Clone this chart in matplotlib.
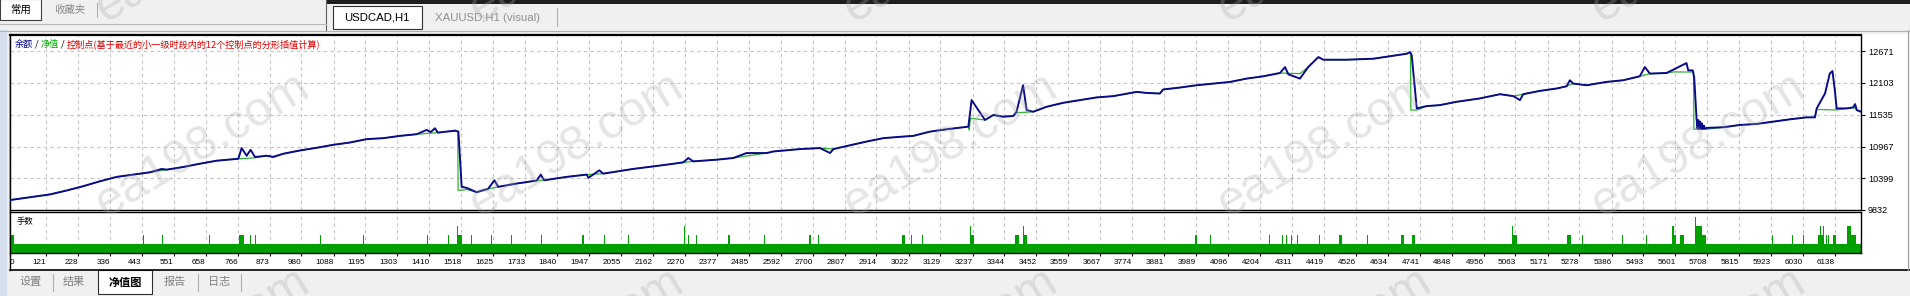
import matplotlib.pyplot as plt
from matplotlib.patches import Rectangle

W, H = 1910, 296

# balance curve: trade number -> account balance
bal_trade = [0, 78, 134, 191, 246, 303, 359, 415, 471, 510, 527, 583, 639, 695,
             768, 779, 796, 809, 824, 863, 885, 919, 975, 1031, 1087, 1143, 1199,
             1255, 1312, 1368, 1401, 1415, 1429, 1439, 1469, 1497, 1508, 1519, 1536,
             1569, 1608, 1629, 1642, 1704, 1771, 1785, 1796, 1872, 1940, 1945, 1982,
             1995, 2096, 2208, 2264, 2281, 2298, 2376, 2432, 2477, 2545, 2567, 2657,
             2724, 2758, 2769, 2881, 2937, 2993, 3038, 3094, 3150, 3223, 3234, 3279,
             3307, 3340, 3374, 3385, 3407, 3419, 3441, 3486, 3542, 3598, 3654, 3710,
             3789, 3822, 3867, 3878, 3935, 3991, 4047, 4103, 4159, 4215, 4271, 4288,
             4299, 4338, 4366, 4383, 4400, 4417, 4495, 4585, 4697, 4708, 4714, 4731,
             4764, 4809, 4865, 4943, 5011, 5056, 5078, 5089, 5145, 5201, 5235, 5246,
             5257, 5302, 5369, 5425, 5481, 5498, 5515, 5571, 5594, 5638, 5644, 5659,
             5664, 5672, 5675, 5678, 5681, 5684, 5687, 5690, 5693, 5697, 5700, 5706,
             5762, 5818, 5874, 5930, 5986, 6042, 6070, 6076, 6104, 6120, 6129, 6137,
             6143, 6177, 6199, 6205, 6211, 6225]
bal_value = [10010, 10069, 10110, 10181, 10257, 10346, 10424, 10465, 10506, 10566,
             10553, 10601, 10660, 10713, 10748, 10939, 10802, 10908, 10779, 10802,
             10779, 10837, 10896, 10944, 10997, 11038, 11098, 11116, 11157, 11187,
             11263, 11225, 11293, 11215, 11233, 11251, 11233, 10246, 10228, 10150,
             10210, 10363, 10246, 10305, 10358, 10465, 10363, 10424, 10465, 10406,
             10541, 10482, 10566, 10642, 10683, 10761, 10701, 10731, 10761, 10850,
             10850, 10878, 10921, 10939, 10850, 10921, 11056, 11116, 11140, 11157,
             11233, 11275, 11322, 11796, 11441, 11530, 11500, 11512, 11588, 12062,
             11618, 11588, 11677, 11748, 11796, 11844, 11867, 11943, 11925, 11914,
             11986, 12021, 12062, 12092, 12121, 12181, 12222, 12281, 12387, 12257,
             12181, 12387, 12476, 12565, 12518, 12518, 12536, 12625, 12653, 12600,
             11648, 11689, 11707, 11766, 11826, 11902, 11867, 11796, 11902, 11961,
             12003, 12044, 12151, 12092, 12062, 12121, 12151, 12222, 12387, 12270,
             12281, 12341, 12458, 12328, 12328, 12200, 11460, 11290, 11440, 11285,
             11410, 11282, 11380, 11280, 11340, 11285, 11300, 11311, 11352, 11370,
             11411, 11453, 11488, 11488, 11648, 11915, 12270, 12316, 11974, 11648,
             11648, 11666, 11725, 11618, 11588]

# equity curve: follows the balance but stays flat under the balance spikes
eq_trade = [0, 78, 134, 191, 246, 303, 359, 415, 471, 527, 583, 639, 695, 768, 824,
            863, 885, 919, 975, 1031, 1087, 1143, 1199, 1255, 1312, 1368, 1439, 1469,
            1497, 1506, 1507, 1519, 1536, 1569, 1608, 1642, 1704, 1771, 1796, 1872,
            1940, 1995, 2096, 2208, 2264, 2298, 2376, 2432, 2545, 2567, 2657, 2724,
            2769, 2881, 2937, 2993, 3038, 3094, 3150, 3223, 3226, 3230, 3279, 3307,
            3340, 3374, 3385, 3419, 3441, 3486, 3542, 3598, 3654, 3710, 3789, 3822,
            3867, 3878, 3935, 3991, 4047, 4103, 4159, 4215, 4271, 4338, 4366, 4383,
            4400, 4417, 4495, 4585, 4697, 4710, 4711, 4731, 4764, 4809, 4865, 4943,
            5011, 5056, 5089, 5145, 5201, 5235, 5257, 5302, 5369, 5425, 5481, 5515,
            5571, 5594, 5662, 5663, 5706, 5762, 5818, 5874, 5930, 5986, 6042, 6070,
            6076, 6143, 6177, 6199, 6211, 6225]
eq_value = [10010, 10069, 10110, 10181, 10257, 10346, 10424, 10465, 10506, 10553,
            10601, 10660, 10713, 10748, 10765, 10802, 10790, 10837, 10896, 10944,
            10997, 11038, 11098, 11116, 11157, 11187, 11215, 11233, 11240, 11233,
            10186, 10186, 10200, 10150, 10210, 10246, 10305, 10358, 10363, 10424,
            10465, 10482, 10566, 10642, 10683, 10701, 10731, 10761, 10850, 10878,
            10921, 10939, 10921, 11056, 11116, 11140, 11157, 11233, 11275, 11322,
            11263, 11471, 11441, 11530, 11500, 11512, 11571, 11580, 11588, 11677,
            11748, 11796, 11844, 11867, 11943, 11925, 11914, 11986, 12021, 12062,
            12092, 12121, 12181, 12222, 12281, 12270, 12387, 12476, 12565, 12518,
            12518, 12536, 12625, 12653, 11618, 11618, 11689, 11707, 11766, 11826,
            11902, 11867, 11902, 11961, 12003, 12044, 12092, 12062, 12121, 12151,
            12222, 12270, 12281, 12300, 12298, 11276, 11276, 11311, 11352, 11370,
            11411, 11453, 11488, 11488, 11630, 11620, 11648, 11666, 11618, 11588]

# lot sizes: base lot on every trade plus the larger orders (trade from, trade to, lots)
base_lot = 0.01
last_trade = 6225
lot_from = [0, 448, 512, 670, 771, 808, 824, 1044, 1188, 1403, 1474, 1504, 1504,
            1552, 1618, 1686, 1785, 1922, 1999, 2080, 2267, 2281, 2308, 2414, 2537,
            2688, 2719, 3001, 3031, 3066, 3228, 3228, 3281, 3381, 3406, 3406, 3913,
            3985, 4034, 4071, 4233, 4278, 4291, 4308, 4328, 4402, 4468, 4565, 4677,
            4714, 5016, 5050, 5050, 5218, 5237, 5287, 5420, 5501, 5588, 5591, 5588,
            5616, 5668, 5671, 5690, 5927, 5994, 6031, 6082, 6088, 6098, 6106, 6114,
            6132, 6179, 6190]
lot_to = [15, 451, 515, 673, 787, 811, 827, 1047, 1191, 1406, 1477, 1520, 1507,
          1555, 1621, 1689, 1788, 1932, 2002, 2083, 2270, 2284, 2311, 2422, 2540,
          2694, 2722, 3010, 3034, 3069, 3242, 3232, 3284, 3392, 3420, 3409, 3916,
          3991, 4039, 4074, 4236, 4281, 4294, 4311, 4331, 4405, 4478, 4568, 4688,
          4725, 5019, 5067, 5054, 5221, 5249, 5290, 5423, 5504, 5591, 5595, 5603,
          5630, 5671, 5690, 5705, 5930, 5997, 6034, 6100, 6091, 6101, 6109, 6117,
          6140, 6190, 6208]
lot_size = [0.02, 0.02, 0.02, 0.02, 0.02, 0.02, 0.02, 0.02, 0.02, 0.02, 0.02, 0.02,
            0.03, 0.02, 0.02, 0.02, 0.02, 0.02, 0.02, 0.02, 0.03, 0.02, 0.02, 0.02,
            0.02, 0.02, 0.02, 0.02, 0.02, 0.02, 0.02, 0.03, 0.02, 0.02, 0.02, 0.03,
            0.02, 0.02, 0.02, 0.02, 0.02, 0.02, 0.02, 0.02, 0.02, 0.02, 0.02, 0.02,
            0.02, 0.02, 0.02, 0.02, 0.03, 0.02, 0.02, 0.02, 0.02, 0.02, 0.04, 0.03,
            0.02, 0.02, 0.04, 0.03, 0.02, 0.02, 0.02, 0.02, 0.02, 0.03, 0.03, 0.02,
            0.02, 0.02, 0.03, 0.02]

y_ticks = [9832, 10399, 10967, 11535, 12103, 12671]
x_labels = ['0', '121', '228', '336', '443', '551', '658', '766', '873', '980',
            '1088', '1195', '1303', '1410', '1518', '1625', '1733', '1840', '1947',
            '2055', '2162', '2270', '2377', '2485', '2592', '2700', '2807', '2914',
            '3022', '3129', '3237', '3344', '3452', '3559', '3667', '3774', '3881',
            '3989', '4096', '4204', '4311', '4419', '4526', '4634', '4741', '4848',
            '4956', '5063', '5171', '5278', '5386', '5493', '5601', '5708', '5815',
            '5923', '6030', '6138']
x_ticks = [int(s) for s in x_labels]

CJK = ['Noto Sans CJK SC', 'DejaVu Sans']
NUM = 'Liberation Sans'

fig = plt.figure(figsize=(W / 100, H / 100), dpi=100)
fig.patch.set_facecolor('#f0f0f0')


def px_axes(x0, y0, x1, y1, **kw):
    return fig.add_axes([x0 / W, 1 - y1 / H, (x1 - x0) / W, (y1 - y0) / H], **kw)


# window chrome drawn in pixel coordinates
bg = px_axes(0, 0, W, H, zorder=0)
bg.set_xlim(0, W)
bg.set_ylim(H, 0)
bg.axis('off')
bg.add_patch(Rectangle((10, 34), 1898, 236, fc='white', ec='none'))
bg.add_patch(Rectangle((0, 30), 7, 266, fc='#d5dfeb', ec='none'))
bg.plot([10, 10], [34, 270], color='black', lw=1)
bg.plot([10, 1910], [269.5, 269.5], color='black', lw=1.2)
bg.plot([1908, 1908], [30, 270], color='#a0a0a0', lw=0.8)
bg.plot([0, 1910], [30.5, 30.5], color='#b0b0b0', lw=0.8)

# top tab strip
bg.add_patch(Rectangle((326, 0), 1584, 4, fc='#1e1e1e', ec='none'))
bg.plot([326, 326], [0, 30], color='#606060', lw=0.8)
bg.plot([0, 326], [24, 24], color='#b8b8b8', lw=0.8)
bg.add_patch(Rectangle((0, -1), 41, 21, fc='white', ec='#404040', lw=0.8))
bg.text(20.5, 10, '常用', ha='center', va='center', fontsize=7.5, family=CJK)
bg.text(70, 10, '收藏夹', ha='center', va='center', fontsize=7.5, family=CJK, color='#8a8a8a')
bg.plot([97, 97], [3, 17], color='#b0b0b0', lw=0.8)
bg.add_patch(Rectangle((333, 6), 89, 23, fc='white', ec='#303030', lw=0.8))
bg.text(377, 18, 'USDCAD,H1', ha='center', va='center', fontsize=8.2, family=NUM)
bg.text(435, 18, 'XAUUSD,H1 (visual)', ha='left', va='center', fontsize=8.2,
        family=NUM, color='#909090')
bg.plot([557, 557], [8, 26], color='#b0b0b0', lw=0.8)

# bottom tabs
bg.add_patch(Rectangle((98, 270), 54, 24, fc='white', ec='#303030', lw=0.8))
for label, cx in [('设置', 31), ('结果', 74), ('报告', 175), ('日志', 219)]:
    bg.text(cx, 282, label, ha='center', va='center', fontsize=8, family=CJK, color='#808080')
bg.text(125, 282, '净值图', ha='center', va='center', fontsize=8, family=CJK,
        fontweight='bold')
for sx in [53, 198, 241]:
    bg.plot([sx, sx], [274, 291], color='#b0b0b0', lw=0.8)

grid_kw = dict(color='#c4c4c4', linestyle=(0, (3, 3)), lw=0.8)

# balance / equity panel
ax = px_axes(10, 35, 1861, 210, zorder=1)
ax.plot(eq_trade, eq_value, color='#2fb52f', lw=0.9, zorder=2)
ax.plot(bal_trade, bal_value, color='#0b0b8a', lw=1.4, zorder=3)
ax.set_xlim(0, last_trade)
ax.set_ylim(9832, 12960)
ax.set_xticks(x_ticks)
ax.set_yticks(y_ticks)
ax.set_yticklabels([str(v) for v in y_ticks], family=NUM, fontsize=6.6)
ax.yaxis.tick_right()
ax.tick_params(axis='y', length=3, width=0.8, pad=2)
ax.tick_params(axis='x', length=0, labelbottom=False)
ax.grid(True, **grid_kw)
ax.set_axisbelow(True)
for sp in ax.spines.values():
    sp.set_linewidth(1)
ax.spines['top'].set_linewidth(1.6)

# lots panel
lx = px_axes(10, 212, 1861, 253, zorder=1)
lx.bar([0], [base_lot], width=last_trade, align='edge', color='#00a000', lw=0)
lx.bar(lot_from, lot_size, width=[b - a for a, b in zip(lot_from, lot_to)],
       align='edge', color='#00a000', lw=0)
lx.set_xlim(0, last_trade)
lx.set_ylim(0, 0.0454)
lx.set_yticks([])
lx.set_xticks(x_ticks)
lx.set_xticklabels(x_labels, family=NUM, fontsize=5.9)
for i, lab in enumerate(lx.get_xticklabels()):
    lab.set_ha('left' if i == 0 else 'right')
lx.tick_params(axis='x', length=2.5, width=0.8, pad=1.5)
lx.grid(True, axis='x', **grid_kw)
lx.set_axisbelow(True)
for sp in lx.spines.values():
    sp.set_linewidth(1)
lx.text(0.0035, 0.88, '手数', transform=lx.transAxes, va='top', ha='left',
        fontsize=6, family=CJK)

# legend line at the top of the balance panel, pieces laid out one after another
renderer = fig.canvas.get_renderer()
legend_parts = [('余额', '#000080'), (' / ', 'black'), ('净值', '#00b000'), (' / ', 'black'),
                ('控制点(基于最近的小一级时段内的12个控制点的分形插值计算)', '#e00000')]
x = 15
for s, c in legend_parts:
    t = fig.text(x / W, 1 - 44.5 / H, s, color=c, ha='left', va='center',
                 fontsize=6.6, family=CJK, zorder=5)
    x = t.get_window_extent(renderer).x1

# site watermark on top of everything
wm = px_axes(0, 0, W, H, zorder=10)
wm.set_xlim(0, W)
wm.set_ylim(H, 0)
wm.axis('off')
wm.patch.set_alpha(0)
for cy in [-50, 145, 340]:
    for cx in [203, 577, 951, 1325, 1699]:
        wm.text(cx, cy, 'ea198.com', rotation=31, ha='center', va='center',
                rotation_mode='anchor', fontsize=35, family=NUM,
                color='#a8a8a8', alpha=0.3)

fig.savefig('out.png', dpi=100, facecolor=fig.get_facecolor())
